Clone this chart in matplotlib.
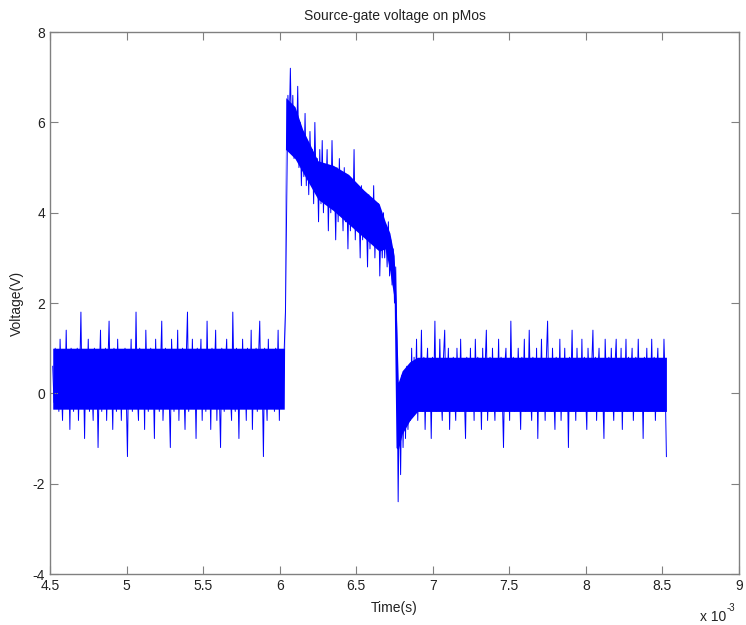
import numpy as np
import matplotlib
matplotlib.use('Agg')
import matplotlib.pyplot as plt
from matplotlib.ticker import FuncFormatter

plt.rcParams['font.family'] = ['Liberation Sans', 'DejaVu Sans']
plt.rcParams['axes.unicode_minus'] = False

# Sampling of the scope trace (seconds)
t_start = 4.518e-3
t_step = 8e-6

# Gate drive off: baseline noise before the pulse (V)
v_before = [
    0.6, -0.2, 1.0, 0.0, 0.8, -0.4, 1.2, 0.2, -0.6, 0.8, 0.0, 1.4, -0.2, 0.6, -0.8, 1.0, 0.2, -0.4, 0.8, -0.2,
    1.0, -0.6, 0.4, 1.8, -0.2, 0.6, -1.0, 0.8, 0.0, 1.2, -0.4, 0.6, 0.2, -0.6, 1.0, -0.2, 0.8, -1.2, 0.4, 1.4,
    -0.4, 0.8, 0.0, 1.0, -0.6, 0.6, 1.6, -0.2, 0.4, -0.8, 1.0, 0.2, -0.4, 1.2, 0.0, 0.8, -0.6, 0.6, -0.2, 1.0,
    0.0, -1.4, 0.8, 0.2, 1.2, -0.4, 0.6, -0.2, 1.8, 0.0, -0.6, 1.0, 0.4, -0.2, 0.8, -0.8, 1.4, 0.2, -0.4, 0.6,
    1.0, -0.2, 0.4, -1.0, 1.2, 0.0, 0.8, -0.4, 0.6, 1.6, -0.6, 0.2, 1.0, -0.2, 0.8, 0.0, -1.2, 1.2, 0.4, -0.4,
    0.8, 0.0, 1.4, -0.6, 0.6, -0.2, 1.0, 0.2, -0.8, 0.8, 1.8, -0.4, 0.4, -0.2, 1.2, 0.0, 0.6, -1.0, 1.0, -0.2,
    0.4, 1.2, -0.6, 0.8, 0.2, -0.4, 1.6, 0.0, 0.6, -0.8, 1.0, -0.2, 0.4, 1.4, -0.6, 0.8, 0.0, -1.2, 1.0, 0.2,
    -0.4, 0.6, 1.2, -0.2, 0.8, 0.0, -0.6, 1.8, 0.2, -0.4, 1.0, 0.4, -1.0, 0.8, -0.2, 1.2, 0.0, 0.6, -0.6, 1.0,
    0.2, -0.2, 1.4, -0.8, 0.6, 0.0, 1.0, -0.4, 0.8, 1.6, -0.2, 0.4, -1.4, 1.0, 0.2, -0.6, 1.2, 0.0, 0.8, -0.2,
    0.6, -0.4, 1.0, 0.0, 1.4, -0.6, 0.8, 0.2, -0.2, 1.0,
]

# Pulse: fast rise, slow sag, then the turn-off undershoot (V)
v_pulse = [
    1.8, 4.2, 6.6, 5.8, 7.2, 5.6, 6.6, 5.2, 6.2, 5.4, 6.8, 5.0, 6.0, 4.6, 5.8, 4.8, 6.2, 4.6, 5.6, 4.4,
    5.8, 4.8, 5.4, 4.2, 6.0, 4.6, 5.2, 3.8, 5.4, 4.2, 5.6, 4.0, 5.0, 4.4, 5.4, 3.6, 5.0, 4.0, 5.6, 4.2,
    4.8, 3.4, 5.0, 3.8, 5.2, 4.0, 4.6, 3.6, 5.0, 3.8, 4.6, 3.2, 4.8, 3.6, 4.4, 3.8, 5.4, 3.4, 4.6, 3.6,
    4.2, 3.0, 4.6, 3.4, 4.4, 3.6, 4.0, 2.8, 4.4, 3.2, 4.2, 3.4, 4.6, 3.0, 4.0, 3.2, 4.2, 2.6, 3.8, 3.0,
    4.0, 3.0, 3.6, 2.8, 3.8, 2.6, 3.4, 2.4, 3.2, 2.0, 2.8, 1.2, -2.4, 0.2, -1.8, 0.4,
]

# Baseline noise after the pulse (V)
v_after = [
    -1.2, 0.2, -1.0, 0.6, -0.8, 0.4, -0.6, 1.0, -0.4, 0.8, -0.2, 1.2, -0.6, 0.6, 0.0, 1.4, -0.4, 0.8, -0.8, 0.4,
    1.0, -0.2, 0.6, -1.0, 0.8, 0.0, 1.6, -0.4, 0.4, -0.2, 1.2, 0.0, -0.6, 0.8, 1.4, -0.4, 0.2, 1.0, -0.8, 0.6,
    -0.2, 0.8, 0.0, -0.6, 1.0, 0.2, -0.4, 1.2, -0.2, 0.6, 0.0, -1.0, 0.8, 0.4, -0.4, 1.0, -0.2, 0.6, -0.6, 1.2,
    0.0, 0.8, -0.4, 0.4, -0.8, 1.0, -0.2, 0.6, 1.4, -0.6, 0.2, 0.8, -0.4, 1.0, 0.0, -0.6, 0.6, -0.2, 1.2, -0.4,
    0.8, 0.0, -1.2, 0.6, 1.0, -0.2, 0.4, -0.6, 1.6, 0.0, 0.8, -0.4, 0.6, -0.2, 1.0, 0.2, -0.8, 0.8, 0.0, 1.2,
    -0.4, 0.6, -0.2, 1.4, 0.0, -0.6, 0.8, 0.2, -0.4, 1.0, -1.0, 0.6, 0.0, 1.2, -0.2, 0.4, -0.6, 0.8, 1.6, -0.2,
    0.6, -0.4, 1.0, 0.0, -0.8, 0.8, 0.2, -0.2, 1.2, -0.6, 0.4, 0.0, 1.0, -0.4, 0.6, -1.2, 0.8, 0.2, 1.4, -0.2,
    0.4, -0.6, 1.0, 0.0, 0.6, -0.4, 1.2, -0.2, 0.8, 0.0, -0.8, 1.0, 0.2, -0.4, 0.6, 1.4, -0.2, 0.8, -0.6, 0.4,
    1.0, -0.2, 0.6, 0.0, -1.0, 1.2, 0.2, -0.4, 0.8, -0.2, 1.0, 0.0, -0.6, 0.6, 1.2, -0.4, 0.4, -0.2, 1.0, -0.8,
    0.6, 0.0, 1.2, -0.4, 0.8, -0.2, 0.4, 1.0, -0.6, 0.2, 0.8, -0.2, 1.2, 0.0, -0.4, 0.6, -1.0, 0.8, 0.2, 1.0,
    -0.4, 0.6, 0.0, 1.2, -0.2, 0.8, -0.6, 0.4, 1.0, -0.2, 0.6, 0.0, -0.4, 1.2, 0.2, -1.4,
]

# Dense core of the trace (where the samples overlap into a solid band)
core_t = [4.518e-3, 6.030e-3, 6.040e-3, 6.10e-3, 6.15e-3, 6.25e-3, 6.35e-3, 6.45e-3,
          6.55e-3, 6.65e-3, 6.69e-3, 6.72e-3, 6.748e-3, 6.760e-3, 6.775e-3, 6.80e-3, 6.85e-3,
          6.90e-3, 8.526e-3]
core_lo = [-0.35, -0.35, 5.4, 5.2, 4.9, 4.3, 4.05, 3.75, 3.45, 3.15, 3.2, 2.7, 2.1, -1.2,
           -1.25, -0.9, -0.6, -0.4, -0.4]
core_hi = [1.0, 1.0, 6.55, 6.35, 5.85, 5.15, 5.05, 4.85, 4.5, 4.2, 3.8, 3.55, 3.05, 2.0,
           0.25, 0.5, 0.7, 0.8, 0.8]

x_ticks = [4.5e-3, 5e-3, 5.5e-3, 6e-3, 6.5e-3, 7e-3, 7.5e-3, 8e-3, 8.5e-3, 9e-3]
y_ticks = [-4, -2, 0, 2, 4, 6, 8]

v = np.array(v_before + v_pulse + v_after)
t = t_start + t_step * np.arange(len(v))

fig = plt.figure(figsize=(7.46, 6.25), dpi=100)
ax = fig.add_axes([0.067, 0.0816, 0.9236, 0.867])

ax.fill_between(core_t, core_lo, core_hi, color='#0000ff', lw=0)
ax.plot(t, v, color='#0000ff', lw=0.7)

ax.set_xlim(4.5e-3, 9e-3)
ax.set_ylim(-4, 8)
ax.set_xticks(x_ticks)
ax.set_yticks(y_ticks)
ax.xaxis.set_major_formatter(FuncFormatter(lambda x, p: f'{x * 1e3:g}'))

grey = '#808080'
for s in ax.spines.values():
    s.set_color(grey)
    s.set_linewidth(1.0)
ax.tick_params(direction='in', length=6, width=0.8, color=grey,
               top=True, right=True, labelsize=10, labelcolor='#222222')

ax.set_title('Source-gate voltage on pMos', fontsize=10, color='#222222', pad=9)
ax.set_xlabel('Time(s)', fontsize=10, color='#222222', labelpad=6)
ax.set_ylabel('Voltage(V)', fontsize=10, color='#222222', labelpad=6)

# axis multiplier, written MATLAB style
fig.text(0.938, 0.007, 'x 10', fontsize=10, color='#222222', va='baseline')
fig.text(0.974, 0.022, '-3', fontsize=7, color='#222222', va='baseline')

fig.savefig('out.png', dpi=100)
